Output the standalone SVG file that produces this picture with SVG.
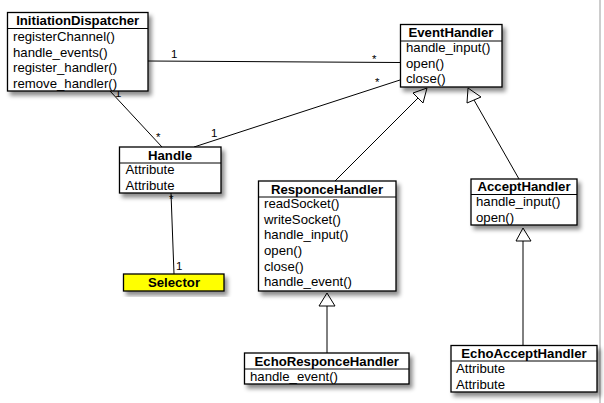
<svg xmlns="http://www.w3.org/2000/svg" width="604" height="403" viewBox="0 0 604 403">
<defs>
<filter id="sh" x="-10%" y="-10%" width="130%" height="140%">
<feDropShadow dx="3" dy="4" stdDeviation="2" flood-color="#000" flood-opacity="0.45"/>
</filter>
</defs>
<style>
.box{fill:#fff;stroke:#000;stroke-width:1.3}
.div{stroke:#000;stroke-width:1}
.t{font-family:"Liberation Sans",Arial,sans-serif;font-size:13.2px;fill:#000}
.h{font-family:"Liberation Sans",Arial,sans-serif;font-size:13.2px;font-weight:bold;fill:#000;text-anchor:middle}
.m{font-family:"Liberation Sans",Arial,sans-serif;font-size:11.5px;fill:#000}
.ln{stroke:#000;stroke-width:1;fill:none}
.tri{fill:#fff;stroke:#000;stroke-width:1}
</style>
<rect x="0" y="0" width="604" height="403" fill="#fff"/>
<line x1="600" y1="0" x2="600" y2="403" stroke="#bdbdbd" stroke-width="1.5"/>

<g id="connectors">
<line class="ln" x1="148" y1="61" x2="400" y2="62.5"/>
<line class="ln" x1="400" y1="80" x2="194" y2="147"/>
<line class="ln" x1="110" y1="91" x2="162" y2="147"/>
<line class="ln" x1="171" y1="193" x2="174" y2="274"/>
<line class="ln" x1="335" y1="181" x2="418" y2="98"/>
<polygon class="tri" points="427,88 413,93 423,103"/>
<line class="ln" x1="519" y1="179" x2="474" y2="100"/>
<polygon class="tri" points="468,88 467,103 481,97"/>
<line class="ln" x1="523" y1="241" x2="523" y2="345"/>
<polygon class="tri" points="523,228 516,241 531,241"/>
<line class="ln" x1="327" y1="306" x2="327" y2="353"/>
<polygon class="tri" points="327,293 319,306 335,306"/>
<text class="m" x="171" y="58">1</text>
<text class="m" x="372" y="63">*</text>
<text class="m" x="375" y="86">*</text>
<text class="m" x="211" y="137">1</text>
<text class="m" x="115" y="97">1</text>
<text class="m" x="156" y="141">*</text>
<text class="m" x="169" y="203">*</text>
<text class="m" x="176" y="270">1</text>
</g>

<g id="InitiationDispatcher">
<rect class="box" filter="url(#sh)" x="7.5" y="12.5" width="140.5" height="78.5"/>
<line class="div" x1="7.5" y1="28.5" x2="148" y2="28.5"/>
<text class="h" x="77.7" y="25">InitiationDispatcher</text>
<text class="t" x="13" y="41">registerChannel()</text>
<text class="t" x="13" y="56.5">handle_events()</text>
<text class="t" x="13" y="72">register_handler()</text>
<text class="t" x="13" y="87.5">remove_handler()</text>
</g>

<g id="EventHandler">
<rect class="box" filter="url(#sh)" x="400.5" y="24.5" width="101.5" height="62.5"/>
<line class="div" x1="400.5" y1="41" x2="502" y2="41"/>
<text class="h" x="451" y="36.7">EventHandler</text>
<text class="t" x="406" y="52">handle_input()</text>
<text class="t" x="406" y="67.5">open()</text>
<text class="t" x="406" y="83">close()</text>
</g>

<g id="Handle">
<rect class="box" filter="url(#sh)" x="119.5" y="147" width="101.5" height="46"/>
<line class="div" x1="119.5" y1="163" x2="221" y2="163"/>
<text class="h" x="170" y="159.5">Handle</text>
<text class="t" x="125.5" y="174">Attribute</text>
<text class="t" x="125.5" y="189.5">Attribute</text>
</g>

<g id="Selector">
<rect class="box" filter="url(#sh)" x="123.5" y="274" width="100.5" height="17" fill="#ffff00" style="fill:#ffff00"/>
<text class="h" x="174" y="287">Selector</text>
</g>

<g id="ResponceHandler">
<rect class="box" filter="url(#sh)" x="258.5" y="181" width="137.5" height="110"/>
<line class="div" x1="258.5" y1="197" x2="396" y2="197"/>
<text class="h" x="327" y="193.5">ResponceHandler</text>
<text class="t" x="264" y="208">readSocket()</text>
<text class="t" x="264" y="223.5">writeSocket()</text>
<text class="t" x="264" y="239">handle_input()</text>
<text class="t" x="264" y="255">open()</text>
<text class="t" x="264" y="270.5">close()</text>
<text class="t" x="264" y="286">handle_event()</text>
</g>

<g id="AcceptHandler">
<rect class="box" filter="url(#sh)" x="471" y="179" width="106" height="46"/>
<line class="div" x1="471" y1="194.5" x2="577" y2="194.5"/>
<text class="h" x="524" y="190.7">AcceptHandler</text>
<text class="t" x="476" y="205.7">handle_input()</text>
<text class="t" x="476" y="221.5">open()</text>
</g>

<g id="EchoResponceHandler">
<rect class="box" filter="url(#sh)" x="244.5" y="353" width="164.5" height="31"/>
<line class="div" x1="244.5" y1="369" x2="409" y2="369"/>
<text class="h" x="326.7" y="365.5">EchoResponceHandler</text>
<text class="t" x="250" y="381">handle_event()</text>
</g>

<g id="EchoAcceptHandler">
<rect class="box" filter="url(#sh)" x="451" y="345.5" width="146" height="46.5"/>
<line class="div" x1="451" y1="361" x2="597" y2="361"/>
<text class="h" x="524" y="357.5">EchoAcceptHandler</text>
<text class="t" x="456" y="373.3">Attribute</text>
<text class="t" x="456" y="388.5">Attribute</text>
</g>
</svg>
